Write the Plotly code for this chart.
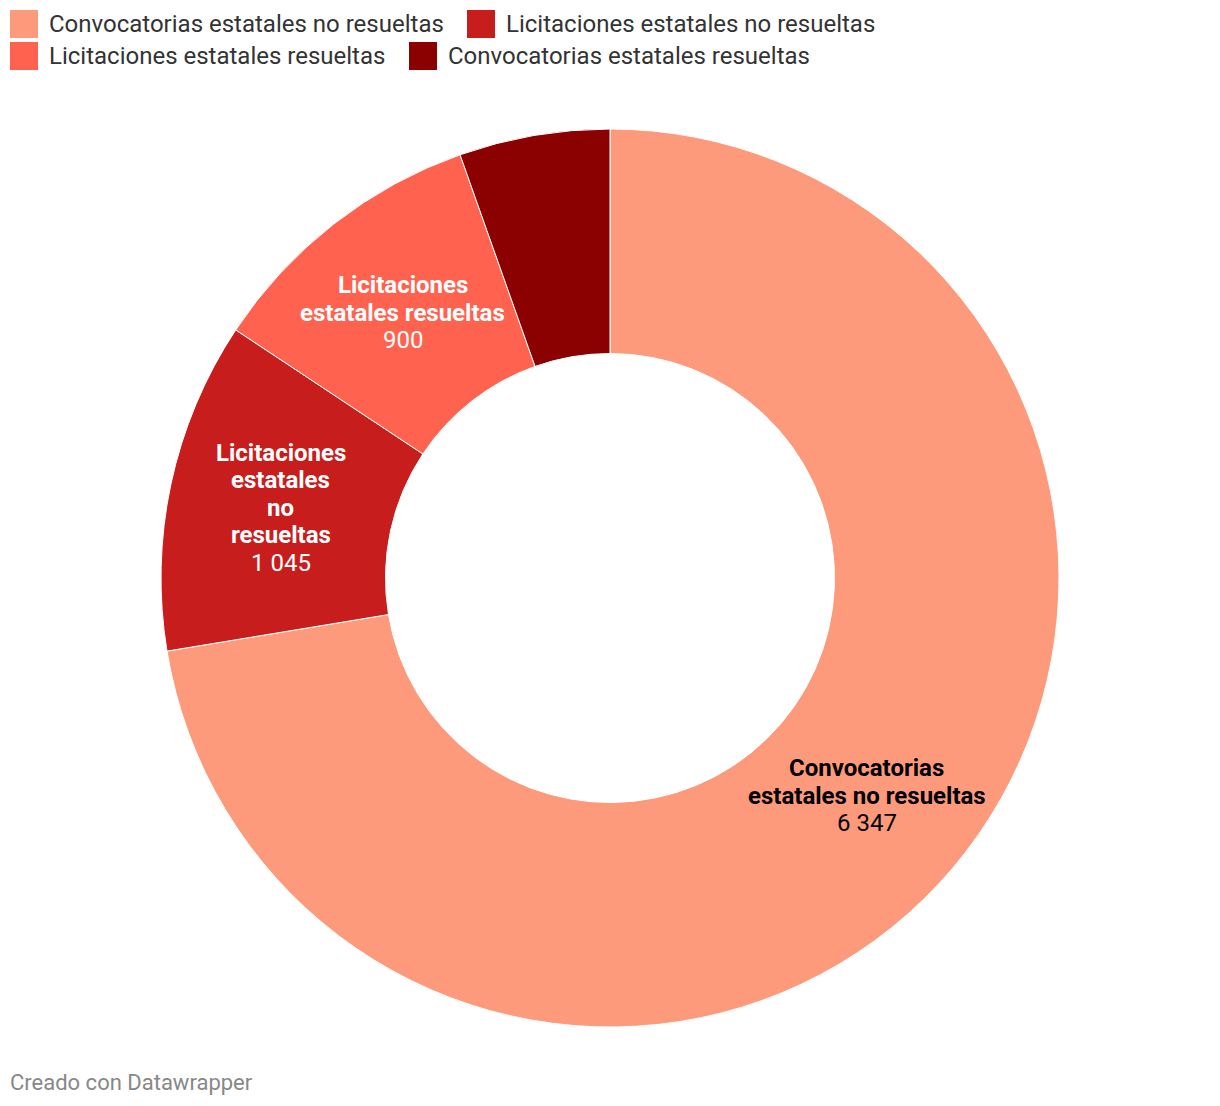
import math
import plotly.graph_objects as go

# ---- data ----
categories = [
    "Convocatorias estatales no resueltas",
    "Licitaciones estatales no resueltas",
    "Licitaciones estatales resueltas",
    "Convocatorias estatales resueltas",
]
values = [6347, 1045, 900, 475]
label_lines = [
    ["Convocatorias", "estatales no resueltas"],
    ["Licitaciones", "estatales", "no", "resueltas"],
    ["Licitaciones", "estatales resueltas"],
    ["Convocatorias", "estatales resueltas"],
]
colors = ["#fe9a7c", "#c71e1d", "#ff624e", "#8b0000"]
label_colors = ["#000000", "#ffffff", "#ffffff", "#ffffff"]
legend_rows = [[0, 1], [2, 3]]

W, H = 1220, 1106
cx, cy, R = 610, 578, 449
hole = 0.5
LINE_H = 27.5

fig = go.Figure()
fig.add_trace(go.Pie(
    labels=categories,
    values=values,
    sort=False,
    direction="clockwise",
    rotation=0,
    hole=hole,
    marker=dict(colors=colors, line=dict(color="#ffffff", width=1)),
    textinfo="none",
    hoverinfo="label+value",
    showlegend=False,
    domain=dict(x=[(cx - R) / W, (cx + R) / W], y=[1 - (cy + R) / H, 1 - (cy - R) / H]),
))

def fmt(v):
    return f"{v:,}".replace(",", " ")

annotations = []
total = sum(values)
cum = 0
for i, v in enumerate(values):
    frac = v / total
    mid = (cum + v / 2) / total * 2 * math.pi
    cum += v
    if frac < 0.08:
        continue
    rm = R * (1 + hole) / 2
    px = cx + rm * math.sin(mid)
    py = cy - rm * math.cos(mid)
    lines = [f"<b>{t}</b>" for t in label_lines[i]] + [fmt(v)]
    n = len(lines)
    for k, t in enumerate(lines):
        annotations.append(dict(
            x=px / W, y=1 - py / H, xref="paper", yref="paper",
            text=t, showarrow=False, align="center",
            yshift=-(k - (n - 1) / 2) * LINE_H,
            font=dict(family="Roboto", size=24, color=label_colors[i]),
            xanchor="center", yanchor="middle",
        ))

# custom legend (large swatches)
shapes = []
row_y = [24, 56]
item_x = [[10, 467], [10, 409]]
for r, row in enumerate(legend_rows):
    for k, idx in enumerate(row):
        x0 = item_x[r][k]
        yc = row_y[r]
        shapes.append(dict(type="rect", xref="paper", yref="paper",
                           x0=x0 / W, x1=(x0 + 28) / W,
                           y0=1 - (yc + 14) / H, y1=1 - (yc - 14) / H,
                           fillcolor=colors[idx], line=dict(width=0)))
        annotations.append(dict(
            x=(x0 + 37) / W, y=1 - yc / H, xref="paper", yref="paper",
            text=categories[idx], showarrow=False,
            xanchor="left", yanchor="middle",
            font=dict(family="Roboto", size=24, color="#333333"),
        ))

annotations.append(dict(
    x=8 / W, y=1 - 1082 / H, xref="paper", yref="paper",
    text="Creado con Datawrapper", showarrow=False,
    xanchor="left", yanchor="middle",
    font=dict(family="Roboto", size=22, color="#888888"),
))

fig.update_layout(
    width=W, height=H,
    margin=dict(l=0, r=0, t=0, b=0),
    paper_bgcolor="#ffffff",
    plot_bgcolor="#ffffff",
    showlegend=False,
    annotations=annotations,
    shapes=shapes,
    font=dict(family="Roboto"),
)

fig.write_html(
    "out.html",
    config={"displayModeBar": False},
    post_script="document.body.style.margin='0';document.body.style.padding='0';",
)
